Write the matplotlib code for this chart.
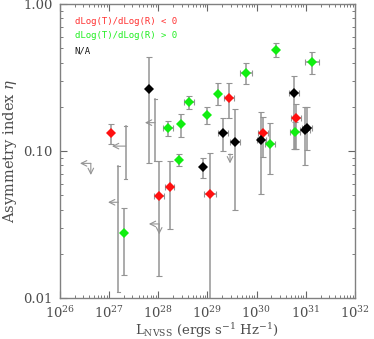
#!/usr/bin/env python3
import matplotlib
matplotlib.use("Agg")
import matplotlib.pyplot as plt
import numpy as np

# log10 of L_NVSS, eta, and lower / upper end of the eta error bar
red_logL = [27.05, 28.01, 28.23, 29.05, 29.44, 30.13, 30.80]
red_eta = [0.132, 0.0497, 0.0569, 0.0510, 0.229, 0.132, 0.169]
red_lo = [0.1116, 0.0141, 0.0293, 0.005, 0.167, 0.0915, 0.1027]
red_hi = [0.153, 0.0855, 0.0855, 0.0974, 0.289, 0.171, 0.208]
red_xerr = [0.0, 0.1, 0.1, 0.12, 0.1, 0.1, 0.1]

green_logL = [27.31, 28.20, 28.43, 28.47, 28.62, 28.99, 29.22, 29.79, 30.40, 30.27, 30.78, 31.12]
green_eta = [0.0275, 0.143, 0.0868, 0.152, 0.217, 0.177, 0.245, 0.340, 0.486, 0.112, 0.135, 0.401]
green_lo = [0.01426, 0.1265, 0.079, 0.124, 0.194, 0.153, 0.205, 0.286, 0.434, 0.0698, 0.1027, 0.334]
green_hi = [0.0412, 0.161, 0.0954, 0.180, 0.238, 0.200, 0.289, 0.395, 0.540, 0.154, 0.158, 0.469]
green_xerr = [0.0, 0.1, 0.0, 0.0, 0.1, 0.0, 0.0, 0.12, 0.0, 0.1, 0.1, 0.14]

black_logL = [27.82, 28.91, 29.32, 29.57, 30.10, 30.76, 30.99, 31.03]
black_eta = [0.263, 0.0774, 0.133, 0.115, 0.119, 0.248, 0.140, 0.143]
black_lo = [0.0824, 0.0652, 0.100, 0.0397, 0.0510, 0.1027, 0.0803, 0.1016]
black_hi = [0.438, 0.0891, 0.167, 0.193, 0.185, 0.324, 0.200, 0.198]
black_xerr = [0.0, 0.0, 0.1, 0.1, 0.1, 0.1, 0.1, 0.1]

# upper limits: logL, eta, bar low, bar high (0 = no bar), left arrow tip logL (0 = none), down arrow tip eta (0 = none)
lim_logL = [26.63, 27.34, 27.19, 27.94, 28.02, 29.46]
lim_eta = [0.0824, 0.108, 0.0448, 0.156, 0.0319, 0.0954]
lim_lo = [0, 0.0642, 0.0110, 0.0855, 0, 0]
lim_hi = [0, 0.149, 0.079, 0.226, 0, 0]
lim_left = [26.41, 27.06, 26.98, 27.73, 27.81, 0]
lim_down = [0.0687, 0, 0, 0, 0.0271, 0.0824]

gray = '0.58'
plt.rcParams['mathtext.fontset'] = 'dejavuserif'
fig = plt.figure(figsize=(3.74, 3.39), dpi=100)
ax = fig.add_axes([0.160, 0.121, 0.789, 0.867])


def draw(logL, eta, lo, hi, xerr, col):
    L = 10 ** np.array(logL)
    eta = np.array(eta)
    yerr = [eta - np.array(lo), np.array(hi) - eta]
    xe = np.array(xerr)
    xerr_abs = [L - L * 10 ** (-xe), L * 10 ** xe - L]
    ax.errorbar(L, eta, yerr=yerr, xerr=xerr_abs, fmt='none', ecolor=gray,
                elinewidth=1.1, capsize=2, capthick=0.8, zorder=2)
    ax.plot(L, eta, 'D', color=col, markersize=5, markeredgewidth=0, zorder=3)


draw(red_logL, red_eta, red_lo, red_hi, red_xerr, '#ff1010')
draw(green_logL, green_eta, green_lo, green_hi, green_xerr, '#10ee10')
draw(black_logL, black_eta, black_lo, black_hi, black_xerr, 'black')

arrow = dict(arrowstyle='->', color=gray, lw=0.8, shrinkA=0, shrinkB=0)
for i in range(len(lim_logL)):
    L = 10 ** lim_logL[i]
    if lim_hi[i] > 0:
        ax.plot([L, L], [lim_lo[i], lim_hi[i]], color=gray, lw=1.1, zorder=2)
        ax.plot([L * 10 ** -0.03, L * 10 ** 0.03], [lim_lo[i]] * 2, color=gray, lw=0.8)
        ax.plot([L * 10 ** -0.03, L * 10 ** 0.03], [lim_hi[i]] * 2, color=gray, lw=0.8)
    if lim_left[i] > 0:
        ax.annotate('', xy=(10 ** lim_left[i], lim_eta[i]), xytext=(L, lim_eta[i]), arrowprops=arrow)
    else:
        ax.plot([L * 10 ** -0.05, L * 10 ** 0.05], [lim_eta[i]] * 2, color=gray, lw=0.8)
    if lim_down[i] > 0:
        ax.annotate('', xy=(L, lim_down[i]), xytext=(L, lim_eta[i]), arrowprops=arrow)

ax.set_xscale('log')
ax.set_yscale('log')
ax.set_xlim(1e26, 1e32)
ax.set_ylim(0.01, 1.0)
ax.set_xticks([10.0 ** k for k in range(26, 33)])
ax.set_yticks([0.01, 0.1, 1.0])
ax.set_yticklabels(['0.01', '0.10', '1.00'])
ax.tick_params(which='both', direction='in', top=True, right=True, colors='0.4',
               labelcolor='0.3', labelsize=9.5)
ax.tick_params(which='major', length=5, width=0.8, pad=5)
ax.tick_params(which='minor', length=2.5, width=0.6)
for s in ax.spines.values():
    s.set_color('0.5')
    s.set_linewidth(1.0)
for lab in ax.get_xticklabels() + ax.get_yticklabels():
    lab.set_family('DejaVu Serif')

ax.set_xlabel(r'L$_{\rm NVSS}$ (ergs s$^{-1}$ Hz$^{-1}$)', family='DejaVu Serif',
              fontsize=9.5, color='0.3', labelpad=0)
ax.set_ylabel(r'Asymmetry index $\eta$', family='DejaVu Serif', fontsize=10.5,
              color='0.3', labelpad=3)

ax.text(0.05, 0.942, 'dLog(T)/dLog(R) < 0', transform=ax.transAxes, color='#ff3030',
        family='DejaVu Sans Mono', fontsize=6.5, va='center')
ax.text(0.05, 0.894, 'dLog(T)/dLog(R) > 0', transform=ax.transAxes, color='#20ee20',
        family='DejaVu Sans Mono', fontsize=6.5, va='center')
ax.text(0.05, 0.842, 'N/A', transform=ax.transAxes, color='0.1',
        family='DejaVu Sans Mono', fontsize=6.5, va='center')

plt.savefig('out.png', dpi=100)
